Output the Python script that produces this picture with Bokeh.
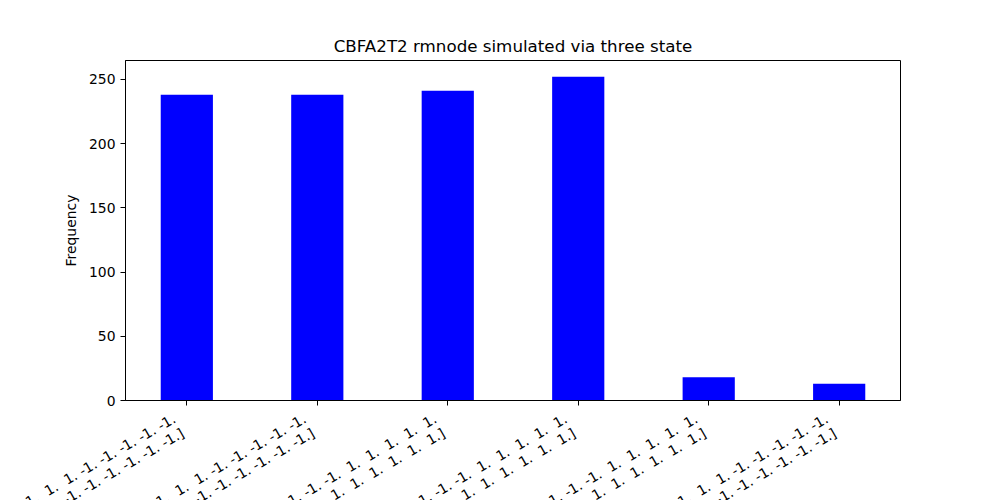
import math

from bokeh.core.properties import value
from bokeh.embed import file_html
from bokeh.layouts import column
from bokeh.models import ColumnDataSource, FixedTicker, Range1d
from bokeh.plotting import figure
from bokeh.resources import INLINE

# simulated network states (one per bar) and how often each was reached
states = [
    [1, 1, 1, 1, 1, 1, 1, 1, -1, 1, 1, 1, 1, -1, -1, -1, -1, -1, 1, -1, -1, -1, -1, -1, -1],
    [1, 1, 1, 1, 1, 1, 1, 1, 1, -1, 1, 1, 1, -1, -1, -1, -1, -1, 1, -1, -1, -1, -1, -1, -1],
    [-1, -1, -1, -1, -1, -1, -1, -1, 1, -1, 1, -1, -1, 1, 1, 1, 1, 1, -1, 1, 1, 1, 1, 1, 1],
    [-1, -1, -1, -1, -1, -1, -1, -1, -1, 1, 1, -1, -1, 1, 1, 1, 1, 1, -1, 1, 1, 1, 1, 1, 1],
    [1, 1, 1, 1, 1, 1, 1, 1, -1, 1, 1, -1, -1, 1, 1, 1, 1, 1, -1, 1, 1, 1, 1, 1, 1],
    [-1, -1, -1, -1, -1, -1, -1, -1, 1, -1, 1, 1, 1, -1, -1, -1, -1, -1, 1, -1, -1, -1, -1, -1, -1],
]
counts = [238, 238, 241, 252, 18, 13]


def as_array_lines(vals, per_line=18):
    # mimic how numpy prints a float array, split in lines
    # (padding as no-break space so svg keeps the double gaps)
    items = [("%2d." % v).replace(" ", "\u00a0") for v in vals]
    lines = [" ".join(items[i:i + per_line]) for i in range(0, len(items), per_line)]
    lines[0] = "[" + lines[0]
    lines[1:] = ["\u00a0" + l for l in lines[1:]]
    lines[-1] = lines[-1] + "]"
    return lines


xs = list(range(len(counts)))

FONT = "DejaVu Sans"
FS = 13.9
W = 1000
LEFT, RIGHT, TOP = 125, 100, 60
X0, X1 = -0.47, len(counts) - 1 + 0.47

p = figure(width=W, height=410, output_backend="svg", toolbar_location=None,
           title="CBFA2T2 rmnode simulated via three state",
           x_range=Range1d(X0, X1),
           y_range=Range1d(0, max(counts) * 1.05),
           min_border_left=LEFT, min_border_right=RIGHT,
           min_border_top=TOP, min_border_bottom=10)
p.frame_align = False

p.vbar(x=xs, top=counts, width=0.4, fill_color="#0000ff", line_color=None)

p.title.align = "center"
p.title.text_font = FONT
p.title.text_font_size = "16.7px"
p.title.text_font_style = "normal"
p.title.text_color = "black"

p.grid.visible = False
p.outline_line_color = "black"
p.outline_line_alpha = 1
p.outline_line_width = 1

p.yaxis.ticker = FixedTicker(ticks=[0, 50, 100, 150, 200, 250])
p.yaxis.axis_label = "Frequency"
p.yaxis.axis_label_text_font = FONT
p.yaxis.axis_label_text_font_size = "13.9px"
p.yaxis.axis_label_text_font_style = "normal"
p.yaxis.axis_label_text_color = "black"
p.yaxis.axis_label_standoff = 7
p.yaxis.major_label_text_font = FONT
p.yaxis.major_label_text_font_size = "13.9px"
p.yaxis.major_label_text_color = "black"

p.xaxis.ticker = FixedTicker(ticks=xs)
p.xaxis.major_label_text_font_size = "0px"
p.xaxis.major_label_standoff = 0

for ax in (p.xaxis, p.yaxis):
    ax.axis_line_color = "black"
    ax.major_tick_line_color = "black"
    ax.major_tick_out = 5
    ax.major_tick_in = 0
    ax.minor_tick_line_color = None

# strip under the chart holding the rotated tick labels, same x scale
upx = (X1 - X0) / (W - LEFT - RIGHT)
q = figure(width=W, height=90, output_backend="svg", toolbar_location=None,
           x_range=Range1d(X0 - LEFT * upx, X1 + RIGHT * upx),
           y_range=Range1d(0, 1), x_axis_type=None, y_axis_type=None,
           min_border=0)
q.frame_align = False
q.grid.visible = False
q.outline_line_color = None

ang = math.pi / 6
lh = FS * 1.2
rows = dict(x=[], y=[], text=[], dx=[], dy=[])
for x, s in zip(xs, states):
    lines = as_array_lines(s)
    block = (len(lines) - 1) * lh + FS * 1.17
    for k, line in enumerate(lines):
        rows["x"].append(x)
        rows["y"].append(1)
        rows["text"].append(line)
        rows["dx"].append(-block * math.sin(ang) + k * lh * math.sin(ang))
        rows["dy"].append(k * lh * math.cos(ang))

q.text(x="x", y="y", text="text", source=ColumnDataSource(rows),
       angle=ang, text_align="right", text_baseline="top",
       x_offset="dx", y_offset="dy",
       text_font=value(FONT), text_font_size="13.9px", text_color="black")

open("out.html", "w").write(file_html(column(p, q, spacing=0), INLINE))
